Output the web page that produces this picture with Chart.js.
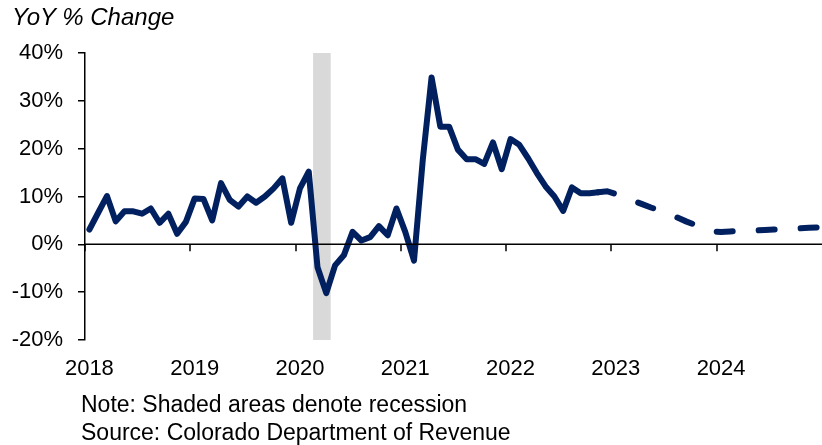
<!DOCTYPE html>
<html>
<head>
<meta charset="utf-8">
<script src="https://cdn.jsdelivr.net/npm/chart.js@4.4.1/dist/chart.umd.min.js"></script>
<style>
  html, body { margin: 0; padding: 0; background: #fff; }
  #wrap { position: relative; width: 822px; height: 445px; overflow: hidden; font-family: "Liberation Sans", Arial, sans-serif; color: #000; }
  #myChart { position: absolute; left: 0; top: 0; }
  .sub { position: absolute; left: 12px; top: 3px; font-size: 24px; font-style: italic; line-height: 28px; }
  .note { position: absolute; left: 81px; font-size: 23px; line-height: 28px; }
</style>
</head>
<body>
<div id="wrap">
  <canvas id="myChart" width="822" height="445"></canvas>
  <div class="sub">YoY % Change</div>
  <div class="note" style="top:390px">Note: Shaded areas denote recession</div>
  <div class="note" style="top:418px">Source: Colorado Department of Revenue</div>
</div>
<script>
const years = ['2018', '2019', '2020', '2021', '2022', '2023', '2024'];
const monthNames = ['01', '02', '03', '04', '05', '06', '07', '08', '09', '10', '11', '12'];

// actual YoY % change, Jan 2018 - Nov 2022
const actualValues = [
  3.1, 6.6, 10.1, 4.8, 6.9, 6.9, 6.4, 7.5, 4.5, 6.4, 2.2, 4.7,
  9.6, 9.5, 5.0, 12.8, 9.3, 7.9, 10.0, 8.7, 10.0, 11.7, 13.8, 4.5,
  11.7, 15.2, -4.8, -10.2, -4.4, -2.3, 2.6, 0.8, 1.5, 3.8, 1.9, 7.5,
  2.6, -3.4, 17.7, 34.9, 24.6, 24.6, 19.8, 17.8, 17.8, 16.8, 21.3, 15.7,
  22.0, 20.8, 18.0, 14.9, 12.1, 10.0, 7.0, 11.9, 10.7, 10.7, 10.9
];

// forecast, Nov 2022 - Dec 2024
const forecastValues = [
  10.9, 11.1,
  10.5, 9.7, 9.1, 8.4, 7.7, 7.1, 6.4, 5.6, 4.8, 4.1, 3.3, 2.7,
  2.6, 2.7, 2.75, 2.8, 2.9, 3.0, 3.1, 3.15, 3.25, 3.35, 3.45, 3.55
];
const forecastStart = '2022-11';

const recessionStart = '2020-03';
const recessionEnd = '2020-04';

const labels = [];
years.forEach(y => monthNames.forEach(m => labels.push(y + '-' + m)));

const forecastData = labels.map(() => null);
const fIdx = labels.indexOf(forecastStart);
forecastValues.forEach((v, i) => { forecastData[fIdx + i] = v; });

const navy = '#002060';

const overlay = {
  id: 'overlay',
  beforeDatasetsDraw(chart) {
    const { ctx, chartArea, scales: { x } } = chart;
    const x1 = x.getPixelForValue(labels.indexOf(recessionStart) - 0.5);
    const x2 = x.getPixelForValue(labels.indexOf(recessionEnd) + 0.5);
    ctx.save();
    ctx.fillStyle = '#d9d9d9';
    ctx.fillRect(x1, chartArea.top, x2 - x1, chartArea.bottom - chartArea.top);
    ctx.restore();
  },
  afterDraw(chart) {
    const { ctx, chartArea, scales: { x, y } } = chart;
    const y0 = y.getPixelForValue(0);
    ctx.save();
    ctx.strokeStyle = '#000';
    ctx.lineWidth = 1.5;
    ctx.beginPath();
    ctx.moveTo(chartArea.left, y0);
    ctx.lineTo(chartArea.right, y0);
    // year tick marks below the zero line
    labels.forEach((l, i) => {
      if (l.endsWith('-01')) {
        const px = Math.round(x.getPixelForValue(i - 0.5));
        ctx.moveTo(px, y0);
        ctx.lineTo(px, y0 + 7);
      }
    });
    ctx.stroke();
    ctx.restore();
  }
};

const ctx = document.getElementById('myChart');

const myChart = new Chart(ctx, {
  type: 'line',
  data: {
    labels: labels,
    datasets: [
      {
        label: 'Actual',
        data: actualValues,
        borderColor: navy,
        borderWidth: 6,
        borderJoinStyle: 'round',
        borderCapStyle: 'round',
        pointRadius: 0,
        tension: 0,
      },
      {
        label: 'Forecast',
        data: forecastData,
        borderColor: navy,
        borderWidth: 6,
        borderDash: [16, 26],
        borderCapStyle: 'round',
        pointRadius: 0,
        tension: 0,
      }
    ]
  },
  options: {
    responsive: false,
    animation: false,
    events: [],
    layout: { padding: { top: 53, right: 0, bottom: 0, left: 0 } },
    plugins: {
      legend: { display: false },
      tooltip: { enabled: false },
    },
    scales: {
      x: {
        type: 'category',
        offset: true,
        grid: { display: false, drawTicks: false },
        border: { display: false },
        ticks: {
          autoSkip: false,
          maxRotation: 0,
          padding: 16,
          color: '#000',
          font: { family: '"Liberation Sans", Arial, sans-serif', size: 22 },
          callback: function (val, i) {
            const l = labels[i];
            return l.endsWith('-01') ? l.slice(0, 4) : '';
          }
        },
        afterFit: function (scale) {
          scale.height = 105;
          scale.paddingRight = 0;
          scale.paddingLeft = 0;
        }
      },
      y: {
        min: -20,
        max: 40,
        grid: {
          drawOnChartArea: false,
          drawTicks: true,
          tickLength: 7,
          color: '#000',
          lineWidth: 1.5,
        },
        border: { display: true, color: '#000', width: 1.5 },
        ticks: {
          stepSize: 10,
          padding: 15,
          color: '#000',
          font: { family: '"Liberation Sans", Arial, sans-serif', size: 22 },
          callback: v => v + '%'
        },
        afterFit: function (scale) { scale.width = 85; }
      }
    }
  },
  plugins: [overlay]
});
</script>
</body>
</html>
